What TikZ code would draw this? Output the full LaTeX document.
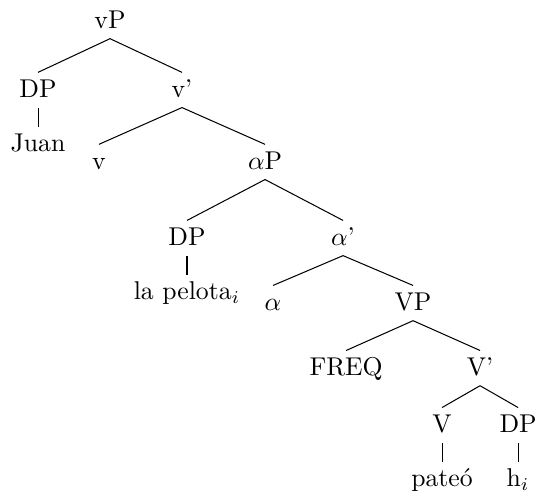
\documentclass[tikz,border=0pt]{standalone}
\usetikzlibrary{positioning}
\tikzset{
    synnode/.style = {inner sep=2.5pt, text height=6.9pt, text depth=1.4pt},% etiquette syntaxique
    unary/.style = {level distance=21.2pt},% branche unaire (terminal)
}

\begin{document}
\begin{tikzpicture}[every node/.style={synnode},
    edge from parent path={(\tikzparentnode.south) -- (\tikzchildnode.north)},
    level 1/.style={sibling distance=56pt, level distance=26.8pt},
    level 2/.style={sibling distance=64.6pt, level distance=28pt},
    level 3/.style={sibling distance=60.7pt, level distance=29.6pt},
    level 4/.style={sibling distance=54.5pt, level distance=25.3pt},
    level 5/.style={sibling distance=52.1pt, level distance=25.3pt},
    level 6/.style={sibling distance=29.6pt, level distance=22.2pt},
    level 7/.style={level distance=21.2pt}]
\useasboundingbox (-42.8pt,8.2pt) rectangle (166.1pt,-183.6pt);
\node (vp) at (0,0) {vP}
child{ node (dpa) {DP}
    child[unary]{ node (juan) {Juan}}
}
child{ node (vbar) {v'}
    child{ node (v) {v}}
    child{ node (alphap) {$\alpha$P}
        child{ node (dpb) {DP}
            child[unary]{ node (pelota) {la pelota$_i$}}
        }
        child{ node (alphabar) {$\alpha$'}
            child{ node (alpha) {$\alpha$}}
            child{ node (vpbig) {VP}
                child{ node (freq) {FREQ}}
                child{ node (vbarbig) {V'}
                    child{ node (verb) {V}
                        child{ node (pateo) {pateó}}
                    }
                    child{ node (dpc) {DP}
                        child{ node (huella) {h$_i$}}
                    }
                }
            }
        }
    }
};
\end{tikzpicture}
\end{document}
